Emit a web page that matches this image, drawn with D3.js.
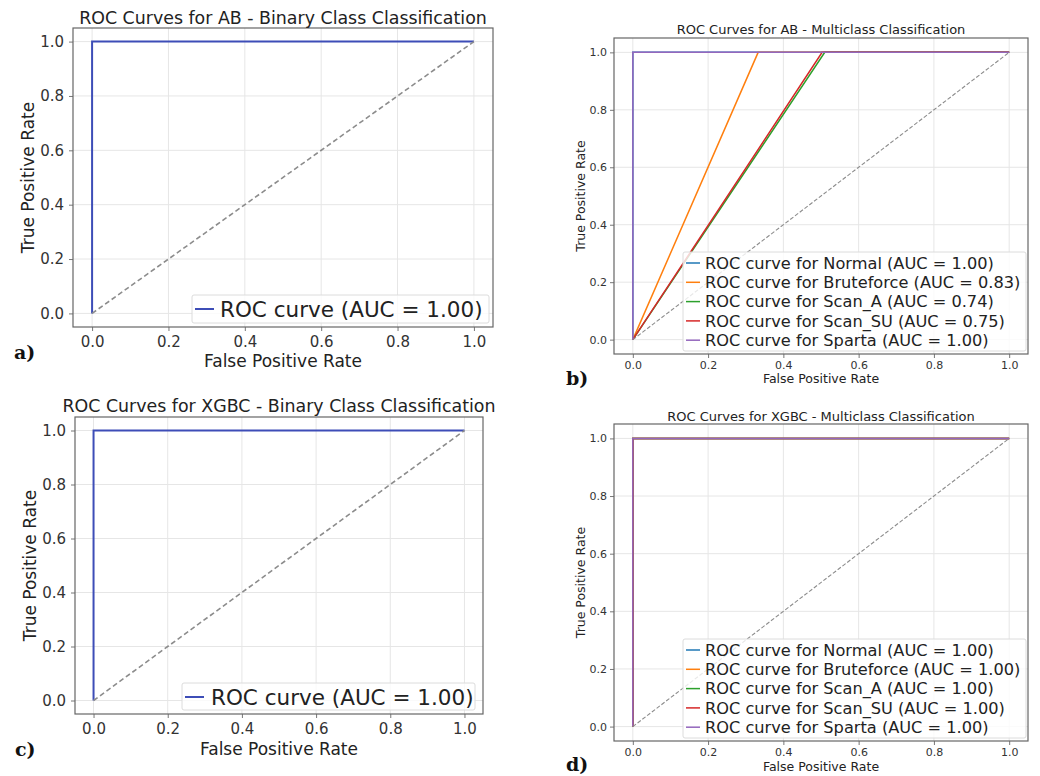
<!DOCTYPE html>
<html lang="en">
<head>
<meta charset="UTF-8">
<title>ROC Curves</title>
<script src="https://d3js.org/d3.v7.min.js"></script>
<style>
  body { margin: 0; background: #fff; }
  svg { display: block; font-family: "DejaVu Sans", sans-serif; }
  .grid line { stroke: #e6e6e6; stroke-width: 1; }
  .axis text { fill: #333; }
  .axis line { stroke: #777; }
  .panel-tag { font-family: "DejaVu Serif", serif; font-weight: bold; fill: #111; }
</style>
</head>
<body>
<div id="chart"></div>
<script>
// Datos
const tickValues = [0, 0.2, 0.4, 0.6, 0.8, 1.0];

// Clasificación binaria (AB y XGBC): curva perfecta
const binaryFpr = [0, 0, 1];
const binaryTpr = [0, 1, 1];
const abBinaryAuc = 1.00;
const xgbBinaryAuc = 1.00;
const binaryColor = "#3d4db7";

// Multiclase
const classNames = ["Normal", "Bruteforce", "Scan_A", "Scan_SU", "Sparta"];
const classColors = ["#1f77b4", "#ff7f0e", "#2ca02c", "#d62728", "#9467bd"];

const abMultiFpr = [[0, 0, 1], [0, 0.333, 1], [0, 0.51, 1], [0, 0.503, 1], [0, 0, 1]];
const abMultiTpr = [[0, 1, 1], [0, 1, 1], [0, 1, 1], [0, 1, 1], [0, 1, 1]];
const abMultiAuc = [1.00, 0.83, 0.74, 0.75, 1.00];

const xgbMultiFpr = [[0, 0, 1], [0, 0, 1], [0, 0, 1], [0, 0, 1], [0, 0, 1]];
const xgbMultiTpr = [[0, 1, 1], [0, 1, 1], [0, 1, 1], [0, 1, 1], [0, 1, 1]];
const xgbMultiAuc = [1.00, 1.00, 1.00, 1.00, 1.00];

const svg = d3.select("#chart").append("svg")
    .attr("width", 1040)
    .attr("height", 776);

function toSeries(fprs, tprs, aucs, colors, labelFn) {
    return fprs.map((f, i) => ({
        points: f.map((x, j) => ({x: x, y: tprs[i][j]})),
        color: colors[i],
        label: labelFn(i, aucs[i])
    }));
}

function drawPanel(cfg, series) {
    const x = d3.scaleLinear().domain([-0.05, 1.05]).range([cfg.left, cfg.right]);
    const y = d3.scaleLinear().domain([-0.05, 1.05]).range([cfg.bottom, cfg.top]);
    const g = svg.append("g");

    // Rejilla
    const grid = g.append("g").attr("class", "grid");
    grid.selectAll(".gx").data(tickValues).enter().append("line")
        .attr("x1", d => x(d)).attr("x2", d => x(d))
        .attr("y1", cfg.top).attr("y2", cfg.bottom);
    grid.selectAll(".gy").data(tickValues).enter().append("line")
        .attr("x1", cfg.left).attr("x2", cfg.right)
        .attr("y1", d => y(d)).attr("y2", d => y(d));

    // Ejes
    const ax = g.append("g").attr("class", "axis")
        .attr("transform", `translate(0,${cfg.bottom})`)
        .call(d3.axisBottom(x).tickValues(tickValues).tickFormat(d3.format(".1f"))
            .tickSizeInner(4).tickSizeOuter(0).tickPadding(cfg.tickPad));
    const ay = g.append("g").attr("class", "axis")
        .attr("transform", `translate(${cfg.left},0)`)
        .call(d3.axisLeft(y).tickValues(tickValues).tickFormat(d3.format(".1f"))
            .tickSizeInner(4).tickSizeOuter(0).tickPadding(cfg.tickPad));
    [ax, ay].forEach(a => {
        a.select(".domain").remove();
        a.selectAll("text").style("font-size", cfg.tickFont + "px")
            .style("font-family", "DejaVu Sans, sans-serif");
    });

    // Marco
    g.append("rect")
        .attr("x", cfg.left).attr("y", cfg.top)
        .attr("width", cfg.right - cfg.left).attr("height", cfg.bottom - cfg.top)
        .attr("fill", "none").attr("stroke", "#666").attr("stroke-width", 1.2);

    const line = d3.line().x(d => x(d.x)).y(d => y(d.y));

    // Curvas ROC
    g.selectAll(".roc").data(series).enter().append("path")
        .attr("fill", "none")
        .attr("stroke", d => d.color)
        .attr("stroke-width", cfg.lineWidth)
        .attr("d", d => line(d.points));

    // Diagonal de referencia
    g.append("path")
        .datum([{x: 0, y: 0}, {x: 1, y: 1}])
        .attr("fill", "none")
        .attr("stroke", "#8c8c8c")
        .attr("stroke-width", cfg.dashWidth)
        .attr("stroke-dasharray", cfg.dash)
        .attr("d", line);

    // Títulos
    g.append("text")
        .attr("x", (cfg.left + cfg.right) / 2).attr("y", cfg.titleY)
        .attr("text-anchor", "middle").style("font-size", cfg.titleFont + "px")
        .attr("fill", "#222").text(cfg.title);
    g.append("text")
        .attr("x", (cfg.left + cfg.right) / 2).attr("y", cfg.xLabelY)
        .attr("text-anchor", "middle").style("font-size", cfg.labelFont + "px")
        .attr("fill", "#222").text("False Positive Rate");
    g.append("text")
        .attr("transform", `translate(${cfg.yLabelX},${(cfg.top + cfg.bottom) / 2}) rotate(-90)`)
        .attr("text-anchor", "middle").style("font-size", cfg.labelFont + "px")
        .attr("fill", "#222").text("True Positive Rate");

    // Leyenda
    const leg = g.append("g");
    leg.append("rect")
        .attr("x", cfg.legend.x).attr("y", cfg.legend.y)
        .attr("width", cfg.legend.w).attr("height", cfg.legend.h)
        .attr("rx", 2)
        .attr("fill", "#fff").attr("fill-opacity", 0.8)
        .attr("stroke", "#dcdcdc");
    const rows = leg.selectAll(".row").data(series).enter().append("g")
        .attr("transform", (d, i) => `translate(${cfg.legend.x},${cfg.legend.row0 + i * cfg.legend.step})`);
    rows.append("line")
        .attr("x1", 3).attr("x2", 3 + cfg.legend.handle)
        .attr("y1", 0).attr("y2", 0)
        .attr("stroke", d => d.color).attr("stroke-width", cfg.lineWidth);
    rows.append("text")
        .attr("x", cfg.legend.textX).attr("dy", "0.36em")
        .style("font-size", cfg.legend.font + "px")
        .attr("fill", "#222").text(d => d.label);

    // Etiqueta del panel
    g.append("text").attr("class", "panel-tag")
        .attr("x", cfg.tagX).attr("y", cfg.tagY)
        .style("font-size", "19px").text(cfg.tag);
}

const binaryLabel = (i, auc) => `ROC curve (AUC = ${auc.toFixed(2)})`;
const multiLabel = (i, auc) => `ROC curve for ${classNames[i]} (AUC = ${auc.toFixed(2)})`;

// a) AB binaria
drawPanel({
    left: 73, right: 493, top: 28, bottom: 327,
    title: "ROC Curves for AB - Binary Class Classification",
    titleY: 24, titleFont: 17.4, xLabelY: 367, yLabelX: 34, labelFont: 17,
    tickFont: 15, tickPad: 5, lineWidth: 2, dashWidth: 1.6, dash: "5,3",
    legend: {x: 192, y: 295, w: 297, h: 28, row0: 309, step: 0, handle: 19, textX: 28, font: 21.5},
    tag: "a)", tagX: 14, tagY: 359
}, toSeries([binaryFpr], [binaryTpr], [abBinaryAuc], [binaryColor], binaryLabel));

// b) AB multiclase
drawPanel({
    left: 614, right: 1028, top: 38, bottom: 354,
    title: "ROC Curves for AB - Multiclass Classification",
    titleY: 34, titleFont: 13, xLabelY: 383, yLabelX: 585, labelFont: 12.5,
    tickFont: 11, tickPad: 3, lineWidth: 1.5, dashWidth: 1.1, dash: "4,2",
    legend: {x: 683, y: 252, w: 343, h: 99, row0: 263, step: 19.3, handle: 14, textX: 22, font: 16.2},
    tag: "b)", tagX: 566, tagY: 385
}, toSeries(abMultiFpr, abMultiTpr, abMultiAuc, classColors, multiLabel));

// c) XGBC binaria
drawPanel({
    left: 75, right: 483, top: 417, bottom: 714,
    title: "ROC Curves for XGBC - Binary Class Classification",
    titleY: 412, titleFont: 17.4, xLabelY: 755, yLabelX: 36, labelFont: 17,
    tickFont: 15, tickPad: 5, lineWidth: 2, dashWidth: 1.6, dash: "5,3",
    legend: {x: 182, y: 683, w: 293, h: 27, row0: 697, step: 0, handle: 19, textX: 29, font: 21.5},
    tag: "c)", tagX: 15, tagY: 756
}, toSeries([binaryFpr], [binaryTpr], [xgbBinaryAuc], [binaryColor], binaryLabel));

// d) XGBC multiclase
drawPanel({
    left: 614, right: 1028, top: 424, bottom: 741,
    title: "ROC Curves for XGBC - Multiclass Classification",
    titleY: 421, titleFont: 13, xLabelY: 771, yLabelX: 585, labelFont: 12.5,
    tickFont: 11, tickPad: 3, lineWidth: 1.5, dashWidth: 1.1, dash: "4,2",
    legend: {x: 683, y: 639, w: 343, h: 99, row0: 650, step: 19.3, handle: 14, textX: 22, font: 16.2},
    tag: "d)", tagX: 566, tagY: 771
}, toSeries(xgbMultiFpr, xgbMultiTpr, xgbMultiAuc, classColors, multiLabel));
</script>
</body>
</html>
